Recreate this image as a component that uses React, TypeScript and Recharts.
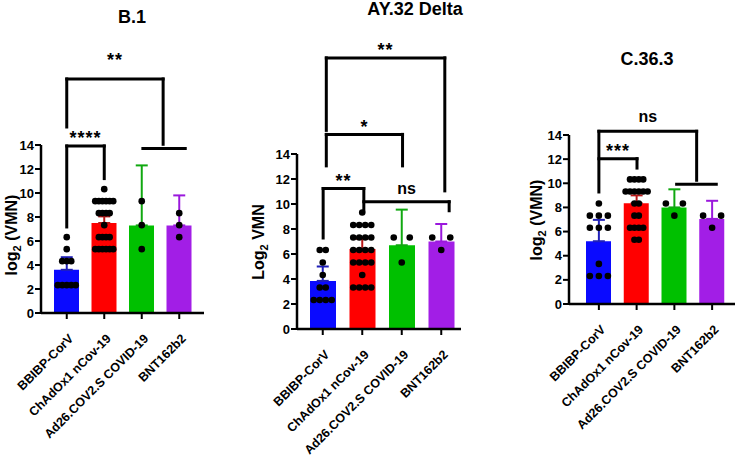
import React from 'react';
import { ComposedChart, Bar, Cell, XAxis, YAxis, Scatter, ErrorBar, ReferenceLine } from 'recharts';

const FONT = '"Liberation Sans", Arial, Helvetica, sans-serif';

const vaccines = ['BBIBP-CorV', 'ChAdOx1 nCov-19', 'Ad26.COV2.S COVID-19', 'BNT162b2'];
const yTicks = [0, 2, 4, 6, 8, 10, 12, 14];

// B.1
const b1Means = [3.6, 7.5, 7.3, 7.3];
const b1ErrUp = [1.05, 0.55, 5.0, 2.5];
const b1Bbibp = [6.32, 5.32, 4.32, 4.32, 4.32, 2.32, 2.32, 2.32, 2.32, 2.32];
const b1ChAd = [10.32, 9.32, 9.32, 9.32, 9.32, 9.32, 9.32, 8.32, 8.32, 8.32, 8.32, 7.32,
  6.32, 6.32, 6.32, 6.32, 5.32, 5.32, 5.32, 5.32, 5.32, 5.32];
const b1Ad26 = [9.32, 7.32, 5.32];
const b1Bnt = [8.32, 7.32, 6.32];

// AY.32 Delta
const ayMeans = [3.85, 6.4, 6.7, 7.0];
const ayErrUp = [1.15, 0.8, 2.85, 1.4];
const ayBbibp = [6.32, 6.32, 5.32, 4.32, 3.32, 3.32, 2.32, 2.32, 2.32, 2.32];
const ayChAd = [9.32, 8.32, 8.32, 8.32, 8.32, 7.32, 7.32, 7.32, 7.32, 6.32, 6.32, 6.32, 6.32,
  5.32, 5.32, 5.32, 5.32, 4.32, 3.32, 3.32, 3.32, 3.32];
const ayAd26 = [7.32, 7.32, 5.32];
const ayBnt = [7.32, 7.32, 6.32];

// C.36.3
const cMeans = [5.2, 8.35, 8.0, 7.05];
const cErrUp = [1.77, 0.65, 1.5, 1.5];
const cBbibp = [8.32, 7.32, 7.32, 7.32, 6.32, 6.32, 6.32, 3.32, 2.32, 2.32, 2.32];
const cChAd = [10.32, 10.32, 10.32, 10.32, 9.32, 9.32, 9.32, 9.32, 9.32, 9.32, 8.32, 8.32,
  7.32, 7.32, 6.32, 6.32, 6.32, 6.32, 5.32, 5.32];
const cAd26 = [8.32, 8.32, 7.32];
const cBnt = [7.32, 7.32, 6.32];

// significance brackets (x in group index, y in log2 units)
const b1Brackets = [
  { from: 0, to: 2.57, y: 19.5, left: 15.5, right: 14.06, text: '**', offset: 13 },
  { from: 0, to: 1, y: 13.92, left: 7.17, right: 11.2, text: '****', offset: 2 },
  { from: 2.03, to: 3.16, y: 13.7, left: null, right: null, text: '', offset: 0 },
];
const ayBrackets = [
  { from: 0.09, to: 3.09, y: 21.69, left: 15.89, right: 11.05, text: '**', offset: 2 },
  { from: 0.09, to: 2.02, y: 15.57, left: 13.05, right: 13.05, text: '*', offset: 1 },
  { from: 0.01, to: 1.04, y: 11.24, left: 7.28, right: 9.51, text: '**', offset: 2 },
  { from: 1.04, to: 3.2, y: 10.18, left: null, right: 9.46, text: 'ns', offset: 8 },
];
const cBrackets = [
  { from: 0, to: 2.59, y: 14.31, left: 9.28, right: 10.25, text: 'ns', offset: 9 },
  { from: 0, to: 1.01, y: 12.04, left: null, right: 11.26, text: '***', offset: 2 },
  { from: 2.06, to: 3.11, y: 9.92, left: null, right: null, text: '', offset: 0 },
];

const barColors = ['#0a0aff', '#ff0000', '#00c000', '#a21ee6'];
const errColors = ['#2020b8', '#b81818', '#10a810', '#9a18dc'];

const panels = [
  {
    title: 'B.1', yPre: 'log', ySuf: ' (VMN)',
    means: b1Means, errUp: b1ErrUp, groups: [b1Bbibp, b1ChAd, b1Ad26, b1Bnt], brackets: b1Brackets,
    left: 0, width: 240, margin: { top: 145, right: 36, bottom: 35, left: 11 }, pad: { left: 7, right: 6 },
    barSize: 25, gaps: [4.5, 3.6, 17, 17], titleX: 132, titleTop: 7, labelX: 12, labelY: 235,
  },
  {
    title: 'AY.32 Delta', yPre: 'Log', ySuf: ' VMN',
    means: ayMeans, errUp: ayErrUp, groups: [ayBbibp, ayChAd, ayAd26, ayBnt], brackets: ayBrackets,
    left: 240, width: 250, margin: { top: 154, right: 29, bottom: 19, left: 27 }, pad: { left: 6, right: 0 },
    barSize: 26, gaps: [6, 6, 16, 18], titleX: 415, titleTop: -1, labelX: 259, labelY: 242,
  },
  {
    title: 'C.36.3', yPre: 'log', ySuf: ' (VMN)',
    means: cMeans, errUp: cErrUp, groups: [cBbibp, cChAd, cAd26, cBnt], brackets: cBrackets,
    left: 490, width: 248, margin: { top: 135, right: 3, bottom: 44, left: 49 }, pad: { left: 11, right: 4 },
    barSize: 25, gaps: [9, 4.4, 17, 18], titleX: 647, titleTop: 49, labelX: 537, labelY: 220,
  },
];

// spread equal values side by side, like a column scatter plot
function buildDots(groups: number[][], gaps: number[]) {
  const pts: { x: number; y: number; shift: number }[] = [];
  groups.forEach((vals, gi) => {
    const counts = new Map<number, number>();
    vals.forEach((v) => counts.set(v, (counts.get(v) || 0) + 1));
    const seen = new Map<number, number>();
    vals.forEach((v) => {
      const n = counts.get(v)!;
      const k = seen.get(v) || 0;
      seen.set(v, k + 1);
      pts.push({ x: gi, y: v, shift: (k - (n - 1) / 2) * gaps[gi] });
    });
  });
  return pts;
}

const Dot = (props: any) => (
  <circle cx={props.cx + (props.payload?.shift ?? 0)} cy={props.cy} r={3.3} fill="#000" />
);

const AngledTick = ({ x, y, payload }: any) => (
  <g transform={`translate(${x + 1},${y + 12})`}>
    <text transform="rotate(-45)" textAnchor="end" dy={9} fontSize={12.5} fontWeight={700} fill="#000" fontFamily={FONT}>
      {payload.value}
    </text>
  </g>
);

function bracketLines(b: any, key: string) {
  const common = {
    xAxisId: 'num',
    ifOverflow: 'visible' as const,
    stroke: '#000',
    strokeWidth: 3,
    strokeLinecap: 'square' as const,
  };
  const els = [
    <ReferenceLine
      key={key + 'h'}
      {...common}
      segment={[{ x: b.from, y: b.y }, { x: b.to, y: b.y }]}
      label={b.text ? {
        value: b.text, position: 'top', offset: b.offset, fill: '#000',
        fontSize: b.text === 'ns' ? 16 : 18, fontWeight: 700, fontFamily: FONT, letterSpacing: b.text === 'ns' ? 0 : 1,
      } : undefined}
    />,
  ];
  if (b.left != null) {
    els.push(<ReferenceLine key={key + 'l'} {...common} segment={[{ x: b.from, y: b.y }, { x: b.from, y: b.left }]} />);
  }
  if (b.right != null) {
    els.push(<ReferenceLine key={key + 'r'} {...common} segment={[{ x: b.to, y: b.y }, { x: b.to, y: b.right }]} />);
  }
  return els;
}

function Panel({ p }: { p: any }) {
  const rows = vaccines.map((name, i) => ({ name, mean: p.means[i] }));
  const dots = buildDots(p.groups, p.gaps);
  const axisStyle = { stroke: '#000', strokeWidth: 2.5 };
  return (
    <div style={{ position: 'absolute', left: p.left, top: 0 }}>
      <ComposedChart width={p.width} height={458} data={rows} margin={p.margin}>
        <XAxis
          xAxisId="cat"
          dataKey="name"
          type="category"
          interval={0}
          height={110}
          tickSize={6}
          padding={p.pad}
          axisLine={axisStyle}
          tickLine={{ stroke: '#000', strokeWidth: 2 }}
          tick={<AngledTick />}
        />
        <XAxis xAxisId="num" dataKey="x" type="number" domain={[-0.5, 3.5]} allowDataOverflow hide padding={p.pad} />
        <YAxis
          dataKey="y"
          type="number"
          domain={[0, 14]}
          ticks={yTicks}
          interval={0}
          allowDataOverflow
          width={30}
          tickSize={6}
          tickMargin={1}
          axisLine={axisStyle}
          tickLine={{ stroke: '#000', strokeWidth: 2 }}
          tick={{ fill: '#000', fontSize: 13, fontWeight: 700, fontFamily: FONT }}
        />
        <Bar xAxisId="cat" dataKey="mean" barSize={p.barSize} isAnimationActive={false}>
          {rows.map((r, i) => (
            <Cell key={r.name} fill={barColors[i]} />
          ))}
        </Bar>
        {p.means.map((m: number, i: number) => (
          <Scatter
            key={'err' + i}
            xAxisId="num"
            dataKey="y"
            data={[{ x: i, y: m, err: [0, p.errUp[i]] }]}
            shape={() => <g />}
            isAnimationActive={false}
          >
            <ErrorBar dataKey="err" direction="y" width={6} stroke={errColors[i]} strokeWidth={2} isAnimationActive={false} />
          </Scatter>
        ))}
        <Scatter xAxisId="num" dataKey="y" data={dots} shape={Dot} isAnimationActive={false} />
        {p.brackets.flatMap((b: any, i: number) => bracketLines(b, 'b' + i))}
      </ComposedChart>
    </div>
  );
}

export default function App() {
  return (
    <div
      style={{
        position: 'absolute', left: 0, top: 0, width: 738, height: 458,
        background: '#fff', fontFamily: FONT, overflow: 'hidden', color: '#000',
      }}
    >
      {panels.map((p) => (
        <Panel key={p.title} p={p} />
      ))}
      {panels.map((p) => (
        <div
          key={'t' + p.title}
          style={{
            position: 'absolute', left: p.titleX - 100, top: p.titleTop, width: 200,
            textAlign: 'center', fontSize: 18, fontWeight: 700, lineHeight: '20px',
          }}
        >
          {p.title}
        </div>
      ))}
      {panels.map((p) => (
        <div
          key={'y' + p.title}
          style={{
            position: 'absolute', left: p.labelX, top: p.labelY,
            transform: 'translate(-50%, -50%) rotate(-90deg)',
            fontSize: 16, fontWeight: 700, whiteSpace: 'nowrap', lineHeight: '18px',
          }}
        >
          {p.yPre}
          <sub style={{ fontSize: 11, verticalAlign: 'sub', lineHeight: 0 }}>2</sub>
          {p.ySuf}
        </div>
      ))}
    </div>
  );
}
